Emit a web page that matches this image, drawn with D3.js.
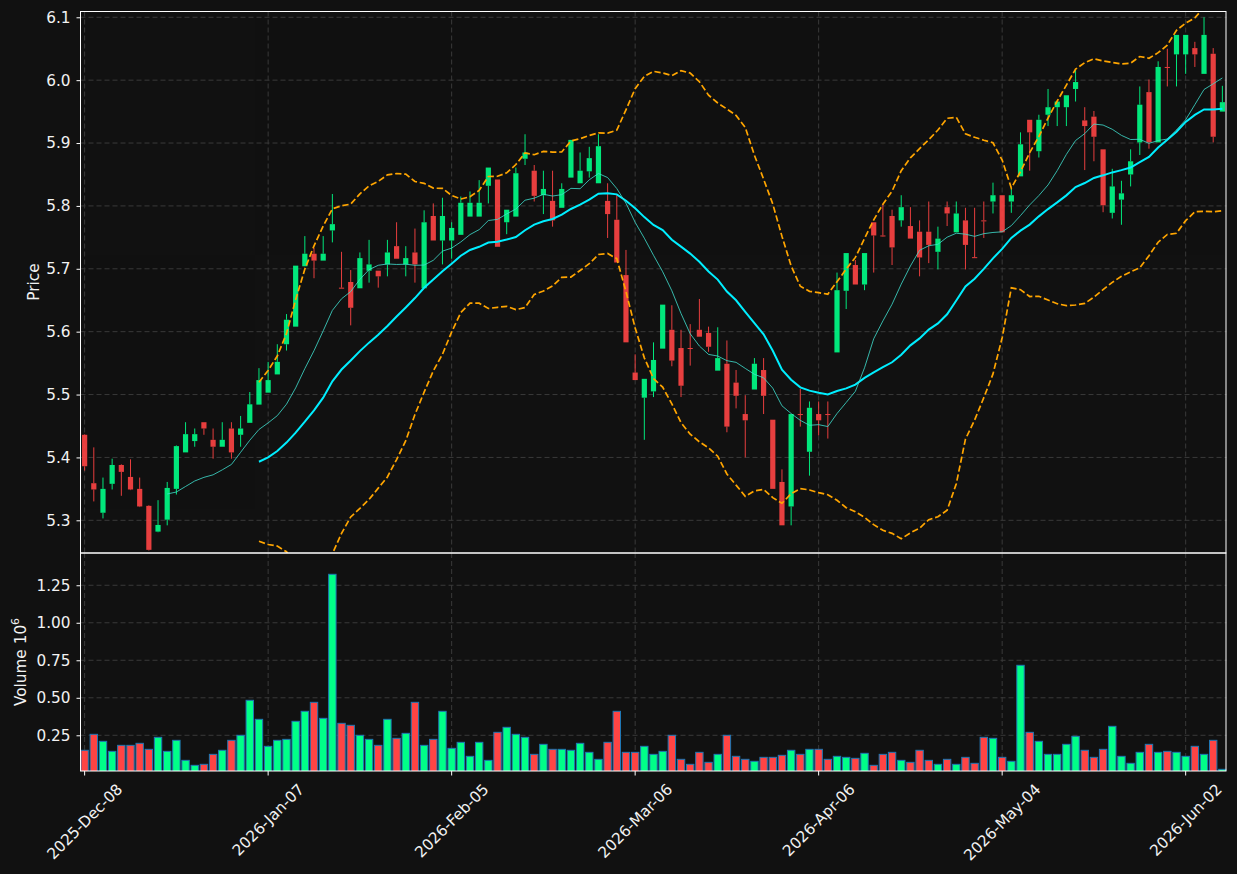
<!DOCTYPE html>
<html><head><meta charset="utf-8">
<script src="https://cdn.jsdelivr.net/npm/d3@7"></script>
<style>
html,body{margin:0;padding:0;background:#111111;}
svg{display:block;font-family:"DejaVu Sans",sans-serif;}
</style></head><body>
<svg id="chart" width="1237" height="874"></svg>
<script>
// ---- data ----
const opens = [5.436,5.359,5.312,5.358,5.388,5.369,5.350,5.323,5.282,5.301,
5.350,5.408,5.426,5.456,5.428,5.417,5.446,5.436,5.455,5.484,
5.503,5.532,5.580,5.608,5.704,5.724,5.713,5.761,5.670,5.679,
5.669,5.697,5.697,5.707,5.736,5.707,5.726,5.669,5.784,5.745,
5.745,5.754,5.783,5.783,5.832,5.842,5.774,5.783,5.875,5.856,
5.817,5.808,5.797,5.845,5.836,5.855,5.836,5.808,5.778,5.690,
5.535,5.495,5.505,5.573,5.603,5.574,5.574,5.603,5.598,5.538,
5.549,5.519,5.469,5.508,5.539,5.460,5.361,5.322,5.469,5.409,
5.469,5.469,5.567,5.665,5.706,5.675,5.774,5.753,5.784,5.777,
5.768,5.759,5.759,5.727,5.798,5.758,5.777,5.7185,5.777,5.807,
5.817,5.807,5.847,5.937,5.887,5.945,5.957,5.957,5.986,5.936,
5.942,5.890,5.789,5.810,5.850,5.901,5.981,5.901,6.021,6.041,
6.041,6.051,6.010,6.042,5.950];
const highs = [5.437,5.416,5.368,5.398,5.389,5.397,5.368,5.324,5.332,5.361,
5.419,5.456,5.446,5.456,5.446,5.456,5.456,5.466,5.504,5.542,
5.552,5.580,5.628,5.705,5.752,5.733,5.752,5.819,5.727,5.698,
5.726,5.746,5.697,5.746,5.774,5.736,5.764,5.793,5.804,5.813,
5.774,5.815,5.823,5.841,5.861,5.842,5.794,5.861,5.914,5.865,
5.856,5.856,5.836,5.905,5.885,5.894,5.914,5.836,5.817,5.730,
5.564,5.525,5.583,5.643,5.642,5.603,5.612,5.652,5.608,5.607,
5.586,5.539,5.499,5.558,5.558,5.460,5.381,5.469,5.509,5.489,
5.489,5.489,5.694,5.725,5.714,5.725,5.774,5.803,5.794,5.817,
5.798,5.777,5.807,5.767,5.807,5.807,5.797,5.797,5.807,5.837,
5.817,5.828,5.917,5.937,5.945,5.986,5.966,5.976,6.016,5.957,
5.951,5.890,5.859,5.840,5.890,5.990,6.001,6.030,6.050,6.072,
6.072,6.061,6.100,6.051,5.991];
const lows = [5.379,5.330,5.303,5.349,5.339,5.348,5.321,5.252,5.281,5.292,
5.341,5.408,5.417,5.436,5.398,5.417,5.398,5.417,5.455,5.484,
5.503,5.532,5.570,5.608,5.704,5.685,5.713,5.742,5.669,5.610,
5.669,5.678,5.670,5.688,5.716,5.688,5.678,5.669,5.745,5.707,
5.716,5.754,5.783,5.783,5.804,5.735,5.755,5.783,5.865,5.807,
5.787,5.767,5.797,5.845,5.836,5.845,5.836,5.749,5.710,5.583,
5.523,5.428,5.496,5.573,5.545,5.496,5.546,5.592,5.568,5.538,
5.440,5.478,5.400,5.508,5.469,5.350,5.292,5.292,5.449,5.371,
5.435,5.430,5.567,5.636,5.675,5.666,5.694,5.752,5.706,5.767,
5.748,5.688,5.709,5.699,5.768,5.758,5.699,5.718,5.749,5.788,
5.758,5.789,5.847,5.856,5.877,5.927,5.927,5.927,5.966,5.857,
5.871,5.790,5.780,5.770,5.831,5.881,5.891,5.901,5.990,5.990,
6.010,6.021,6.010,5.901,5.950];
const closes = [5.386,5.349,5.350,5.388,5.377,5.349,5.322,5.253,5.2926,5.3515,
5.418,5.437,5.437,5.446,5.417,5.428,5.408,5.446,5.4845,5.523,
5.523,5.552,5.619,5.705,5.724,5.713,5.724,5.771,5.669,5.638,
5.717,5.707,5.688,5.726,5.716,5.717,5.707,5.774,5.745,5.784,
5.765,5.805,5.805,5.805,5.861,5.735,5.794,5.852,5.885,5.816,
5.827,5.777,5.827,5.905,5.856,5.876,5.895,5.787,5.710,5.583,
5.523,5.525,5.555,5.643,5.554,5.514,5.573,5.592,5.576,5.558,
5.449,5.498,5.459,5.549,5.498,5.350,5.292,5.469,5.468,5.479,
5.459,5.468,5.666,5.725,5.675,5.725,5.753,5.7525,5.734,5.798,
5.748,5.718,5.738,5.748,5.788,5.788,5.738,5.718,5.7768,5.817,
5.758,5.817,5.898,5.917,5.937,5.957,5.966,5.976,5.997,5.927,
5.910,5.801,5.831,5.820,5.871,5.961,5.901,6.021,6.0205,6.072,
6.072,6.041,6.072,5.910,5.965];
const volumes = [150000,256500,209800,143000,183000,183000,196500,156500,236500,143000,
216500,83000,49800,56500,123000,150000,216500,249800,483200,356500,
176500,216500,223000,343000,409800,469800,363000,1323100,329800,316500,
249800,223000,183000,356500,229800,263000,469800,183000,223000,409800,
163000,203200,109800,203200,83000,269800,303200,256500,236500,123000,
189800,156500,156500,150000,196500,136500,89800,203200,409800,136500,
136500,176500,123000,143000,249800,89800,56500,136500,69800,123000,
249800,109800,89800,76500,103000,103000,116500,150000,123000,156500,
156500,89800,109800,103000,96500,129800,49800,123000,136500,83000,
69800,150000,83000,56500,89800,56500,103000,63200,236500,229800,
103000,76500,716500,269800,209800,123000,123000,189800,243200,150000,
103000,156500,309800,109800,63200,136500,189800,136500,143000,136500,
109800,176500,123000,216500,23200];
const tickIndex = [0,20,40,60,80,100,120];
const tickLabels = ["2025-Dec-08","2026-Jan-07","2026-Feb-05","2026-Mar-06","2026-Apr-06","2026-May-04","2026-Jun-02"];
const priceTicks = [5.3,5.4,5.5,5.6,5.7,5.8,5.9,6.0,6.1];
const volumeTicks = [250000,500000,750000,1000000,1250000];
const maShortPeriod = 10;
const maLongPeriod = 20;

// ---- layout / style ----
const L = 80.5, R = 1226.5, pT = 11.5, pB = 553, vT = 553, vB = 771;
const UP = "#00ff88", DOWN = "#ff4444", TXT = "#f2f2f2", GRID = "#3a3a3a";
const FS = "15.3px";
const svg = d3.select("#chart");
svg.append("rect").attr("width",1237).attr("height",874).attr("fill","#111111");

const n = closes.length;
const idx = d3.range(n);
const x = d3.scaleLinear().domain([-0.45, n - 0.55]).range([L, R]);
const yP = d3.scaleLinear().domain([5.248, 6.1092]).range([pB, pT]);
const yV = d3.scaleLinear().domain([12000, 1465000]).range([vB, vT]);

const defs = svg.append("defs");
defs.append("clipPath").attr("id","clipP").append("rect")
  .attr("x",L).attr("y",pT).attr("width",R-L).attr("height",pB-pT);
defs.append("clipPath").attr("id","clipV").append("rect")
  .attr("x",L).attr("y",vT).attr("width",R-L).attr("height",vB-vT);

// grids
function grid(g, yScale, yTicks, top, bottom){
  g.selectAll(".gx").data(tickIndex).enter().append("line")
    .attr("x1",d=>x(d)).attr("x2",d=>x(d)).attr("y1",top).attr("y2",bottom)
    .attr("stroke",GRID).attr("stroke-width",1).attr("stroke-dasharray","5,3");
  g.selectAll(".gy").data(yTicks).enter().append("line")
    .attr("x1",L).attr("x2",R).attr("y1",d=>yScale(d)).attr("y2",d=>yScale(d))
    .attr("stroke",GRID).attr("stroke-width",1).attr("stroke-dasharray","5,3");
}
grid(svg.append("g"), yP, priceTicks, pT, pB);
grid(svg.append("g"), yV, volumeTicks, vT, vB);

// candles
const gc = svg.append("g").attr("clip-path","url(#clipP)").attr("opacity",0.9);
const col = i => closes[i] >= opens[i] ? UP : DOWN;
const bw = 5.2;
idx.forEach(i => {
  const top = Math.max(opens[i], closes[i]), bot = Math.min(opens[i], closes[i]);
  const yt = yP(top), yb = yP(bot);
  const h = Math.max(1, yb - yt);
  if (highs[i] > top) gc.append("line").attr("x1",x(i)).attr("x2",x(i))
      .attr("y1",yP(highs[i])).attr("y2",yt).attr("stroke",col(i)).attr("stroke-width",1);
  if (lows[i] < bot) gc.append("line").attr("x1",x(i)).attr("x2",x(i))
      .attr("y1",yt + h).attr("y2",yP(lows[i])).attr("stroke",col(i)).attr("stroke-width",1);
  gc.append("rect").attr("x",x(i)-bw/2).attr("y",yt).attr("width",bw).attr("height",h)
    .attr("fill",col(i));
});

// indicators derived from the closes (moving averages and Bollinger bands)
function rollMean(arr, p){ return arr.map((v,i)=> i < p-1 ? null : d3.mean(arr.slice(i-p+1,i+1))); }
function rollStd(arr, p){ return arr.map((v,i)=>{ if(i<p-1) return null; const s=arr.slice(i-p+1,i+1); const m=d3.mean(s); return Math.sqrt(d3.mean(s,d=>(d-m)*(d-m))); }); }
const maS = rollMean(closes, maShortPeriod);
const maL = rollMean(closes, maLongPeriod);
const sd = rollStd(closes, maLongPeriod);
const bbU = maL.map((m,i)=> m==null?null:m+2*sd[i]);
const bbD = maL.map((m,i)=> m==null?null:m-2*sd[i]);

const gl = svg.append("g").attr("clip-path","url(#clipP)");
const line = arr => d3.line().defined(i=>arr[i]!=null).x(i=>x(i)).y(i=>yP(arr[i]))(idx);
gl.append("path").attr("d",line(bbU)).attr("fill","none").attr("stroke","#ffa500")
  .attr("stroke-width",1.7).attr("stroke-dasharray","6.3,2.8");
gl.append("path").attr("d",line(bbD)).attr("fill","none").attr("stroke","#ffa500")
  .attr("stroke-width",1.7).attr("stroke-dasharray","6.3,2.8");
gl.append("path").attr("d",line(maL)).attr("fill","none").attr("stroke","#00eeff")
  .attr("stroke-width",2);
gl.append("path").attr("d",line(maS)).attr("fill","none").attr("stroke","#40e0d0")
  .attr("stroke-opacity",0.8).attr("stroke-width",1);

// volume bars
const gv = svg.append("g").attr("clip-path","url(#clipV)");
const vw = 7.4;
gv.selectAll("rect").data(idx).enter().append("rect")
  .attr("x",i=>x(i)-vw/2).attr("y",i=>yV(volumes[i]))
  .attr("width",vw).attr("height",i=>yV.range()[0]-yV(volumes[i])+2)
  .attr("fill",i=>col(i)).attr("stroke","#1f77b4").attr("stroke-width",1);

// frames
svg.append("rect").attr("x",L).attr("y",pT).attr("width",R-L-0.5).attr("height",pB-pT)
  .attr("fill","none").attr("stroke","#ffffff").attr("stroke-width",1);
svg.append("rect").attr("x",L).attr("y",vT).attr("width",R-L-0.5).attr("height",vB-vT)
  .attr("fill","none").attr("stroke","#ffffff").attr("stroke-width",1);

// axes
const axP = d3.axisLeft(yP).tickValues(priceTicks).tickFormat(d3.format(".1f")).tickSize(4).tickPadding(6);
const axV = d3.axisLeft(yV).tickValues(volumeTicks).tickFormat(d=>d3.format(".2f")(d/1e6)).tickSize(4).tickPadding(6);
function styleAxis(g){
  g.select(".domain").remove();
  g.selectAll(".tick line").attr("stroke","#ffffff");
  g.selectAll(".tick text").attr("fill",TXT).attr("font-size",FS)
    .attr("font-family","DejaVu Sans, sans-serif");
}
svg.append("g").attr("transform",`translate(${L},0)`).call(axP).call(styleAxis);
svg.append("g").attr("transform",`translate(${L},0)`).call(axV).call(styleAxis);

// x ticks + rotated labels
const gx = svg.append("g");
tickIndex.forEach((ti,k)=>{
  gx.append("line").attr("x1",x(ti)).attr("x2",x(ti)).attr("y1",vB).attr("y2",vB+4.5)
    .attr("stroke","#ffffff").attr("stroke-width",1);
  const t = gx.append("text").text(tickLabels[k]).attr("fill",TXT).attr("font-size",FS)
    .attr("text-anchor","middle").attr("dy","0.35em");
  const len = t.node().getComputedTextLength();
  const half = (len + 17.8) / (2*Math.SQRT2);
  t.attr("transform",`translate(${x(ti)},${vB + 9.2 + half}) rotate(-45)`);
});

// axis titles
svg.append("text").attr("transform","translate(39,282) rotate(-90)")
  .attr("text-anchor","middle").attr("fill",TXT).attr("font-size",FS).text("Price");
const vl = svg.append("text").attr("transform","translate(25.5,662) rotate(-90)")
  .attr("text-anchor","middle").attr("fill",TXT).attr("font-size",FS);
vl.append("tspan").text("Volume  10");
vl.append("tspan").attr("font-size","11px").attr("dy","-7").text("6");
</script>
</body></html>
